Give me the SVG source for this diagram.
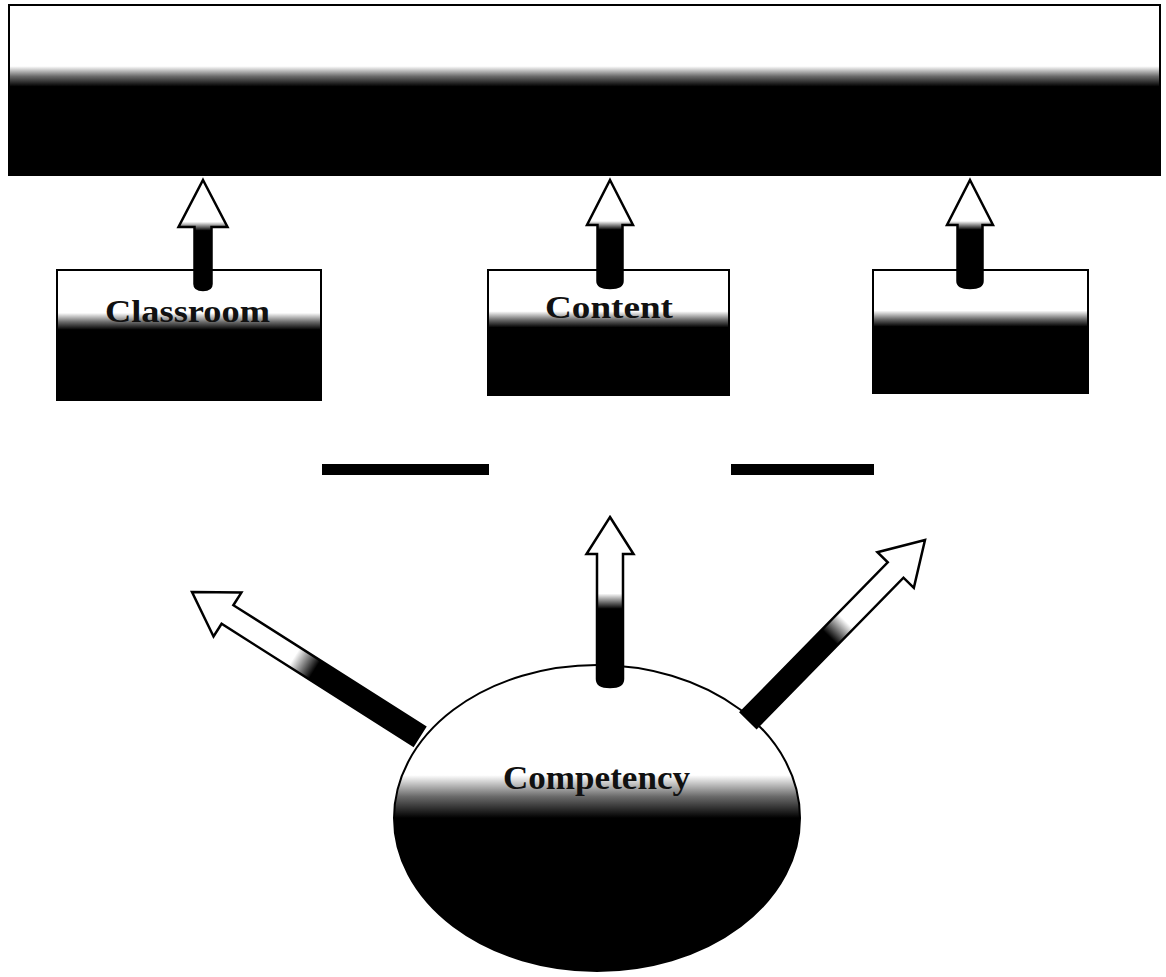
<svg xmlns="http://www.w3.org/2000/svg" width="1166" height="977" viewBox="0 0 1166 977">
  <defs>
    <linearGradient id="gTop" x1="0" y1="0" x2="0" y2="1">
      <stop offset="0" stop-color="#ffffff"/>
      <stop offset="0.36" stop-color="#ffffff"/>
      <stop offset="0.42" stop-color="#6a6a6a"/>
      <stop offset="0.48" stop-color="#000000"/>
      <stop offset="1" stop-color="#000000"/>
    </linearGradient>
    <linearGradient id="gBox" x1="0" y1="0" x2="0" y2="1">
      <stop offset="0" stop-color="#ffffff"/>
      <stop offset="0.33" stop-color="#ffffff"/>
      <stop offset="0.40" stop-color="#6a6a6a"/>
      <stop offset="0.46" stop-color="#000000"/>
      <stop offset="1" stop-color="#000000"/>
    </linearGradient>
    <linearGradient id="gEll" x1="0" y1="0" x2="0" y2="1">
      <stop offset="0" stop-color="#ffffff"/>
      <stop offset="0.36" stop-color="#ffffff"/>
      <stop offset="0.43" stop-color="#6a6a6a"/>
      <stop offset="0.50" stop-color="#000000"/>
      <stop offset="1" stop-color="#000000"/>
    </linearGradient>
    <linearGradient id="gArrowBox" x1="0" y1="0" x2="0" y2="1">
      <stop offset="0" stop-color="#ffffff"/>
      <stop offset="0.38" stop-color="#ffffff"/>
      <stop offset="0.46" stop-color="#000000"/>
      <stop offset="1" stop-color="#000000"/>
    </linearGradient>
    <linearGradient id="gArrowLong" x1="0" y1="0" x2="0" y2="1">
      <stop offset="0" stop-color="#ffffff"/>
      <stop offset="0.45" stop-color="#ffffff"/>
      <stop offset="0.54" stop-color="#000000"/>
      <stop offset="1" stop-color="#000000"/>
    </linearGradient>
  </defs>
  <style>
    .box { stroke: #000; stroke-width: 2; }
    .arrB { fill: url(#gArrowBox); stroke: #000; stroke-width: 2.5; stroke-linejoin: miter; }
    .arrL { fill: url(#gArrowLong); stroke: #000; stroke-width: 2.5; stroke-linejoin: miter; }
    .lbl { font-family: "Liberation Serif", "Times New Roman", serif; font-weight: bold; fill: #111; text-anchor: start; }
    .bar { fill: #000; }
  </style>
  <rect width="1166" height="977" fill="#ffffff"/>

  <g id="top-banner">
    <rect x="9" y="5" width="1151" height="170" fill="url(#gTop)" class="box"/>
  </g>

  <g id="node-classroom">
    <rect x="57" y="270" width="264" height="130" fill="url(#gBox)" class="box"/>
    <text x="105" y="322" class="lbl" font-size="32" textLength="165" lengthAdjust="spacingAndGlyphs">Classroom</text>
  </g>

  <g id="node-content">
    <rect x="488" y="270" width="241" height="125" fill="url(#gBox)" class="box"/>
    <text x="545" y="318" class="lbl" font-size="32" textLength="128" lengthAdjust="spacingAndGlyphs">Content</text>
  </g>

  <g id="node-third">
    <rect x="873" y="270" width="215" height="123" fill="url(#gBox)" class="box"/>
  </g>

  <g id="bars">
    <rect x="322" y="464" width="167" height="11" class="bar"/>
    <rect x="731" y="464" width="143" height="11" class="bar"/>
  </g>

  <g id="node-competency">
    <ellipse cx="597" cy="818" rx="203" ry="153" fill="url(#gEll)" class="box"/>
    <text x="503" y="789" class="lbl" font-size="34" textLength="187" lengthAdjust="spacingAndGlyphs">Competency</text>
  </g>

  <g id="connectors">
    <!-- box arrows up to banner -->
    <path class="arrB" transform="translate(203,180)" d="M0,0 L24.5,47 L8.5,47 L8.5,104 Q8.5,110 0,110 Q-8.5,110 -8.5,104 L-8.5,47 L-24.5,47 Z"/>
    <path class="arrB" transform="translate(610,180)" d="M0,0 L23,45 L12.5,45 L12.5,101 Q12.5,108 0,108 Q-12.5,108 -12.5,101 L-12.5,45 L-23,45 Z"/>
    <path class="arrB" transform="translate(970,180)" d="M0,0 L23,45 L12.5,45 L12.5,101 Q12.5,108 0,108 Q-12.5,108 -12.5,101 L-12.5,45 L-23,45 Z"/>
    <!-- arrows from competency -->
    <path class="arrL" transform="translate(610,517)" d="M0,0 L23.5,37 L13,37 L13,162 Q13,170 0,170 Q-13,170 -13,162 L-13,37 L-23.5,37 Z"/>
    <path class="arrL" transform="translate(192,592) rotate(-57.6)" d="M0,0 L26,42 L11,42 L11,269 L-11,269 L-11,42 L-26,42 Z"/>
    <path class="arrL" transform="translate(925,540) rotate(44.4)" d="M0,0 L25.5,42 L11,42 L11,252 L-11,252 L-11,42 L-25.5,42 Z"/>
  </g>
</svg>
